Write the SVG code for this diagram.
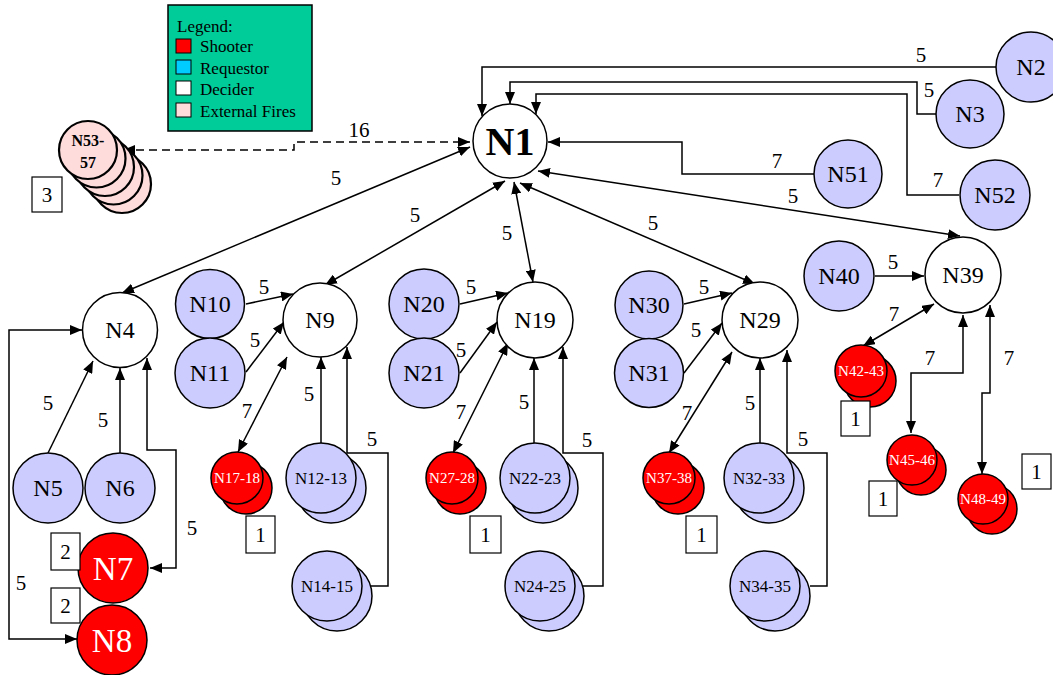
<svg xmlns="http://www.w3.org/2000/svg" width="1053" height="675" viewBox="0 0 1053 675" font-family="'Liberation Serif', 'Times New Roman', 'DejaVu Serif', serif">
<defs>
<marker id="ah" viewBox="0 0 12 10" refX="12" refY="5" markerWidth="12" markerHeight="10" markerUnits="userSpaceOnUse" orient="auto-start-reverse"><path d="M0,0 L12,5 L0,10 z" fill="#000"/></marker>
</defs>
<style>
.c{stroke:#000;stroke-width:1.5}
.lav{fill:#CCCCFF}
.red{fill:#FF0000}
.wht{fill:#FFFFFF}
.pnk{fill:#FFDCDC;stroke:#000;stroke-width:2.2}
text{font-family:'Liberation Serif','Times New Roman','DejaVu Serif',serif;text-anchor:middle;fill:#000}
.nl{font-size:24px}
.gl{font-size:17px}
.rl{font-size:15px;fill:#fff}
.el{font-size:21px}
.bx{fill:#fff;stroke:#000;stroke-width:1.2}
.e{fill:none;stroke:#000;stroke-width:1.5}
.a{marker-end:url(#ah)}
.aa{marker-start:url(#ah);marker-end:url(#ah)}
.lg{font-size:17px;text-anchor:start}
</style>
<g id="legend">
<rect x="168" y="5" width="144" height="126" fill="#00CC99" stroke="#000" stroke-width="1.5"/>
<text class="lg" x="177" y="32">Legend:</text>
<rect x="176" y="39" width="15" height="14" fill="#FF0000" stroke="#000"/>
<text class="lg" x="200" y="52">Shooter</text>
<rect x="176" y="60" width="15" height="14" fill="#00CCFF" stroke="#000"/>
<text class="lg" x="200" y="74">Requestor</text>
<rect x="176" y="81" width="15" height="14" fill="#FFFFFF" stroke="#000"/>
<text class="lg" x="200" y="95">Decider</text>
<rect x="176" y="103" width="15" height="14" fill="#FFDCDC" stroke="#000"/>
<text class="lg" x="200" y="117">External Fires</text>
</g>
<g id="connectors">
<path class="e aa" d="M123,150 H294 V142 H470" stroke-dasharray="8,5"/>
<path class="e a" d="M996,67 H482 V116"/>
<path class="e a" d="M937,114 H917 V82 H510 V104"/>
<path class="e a" d="M959,195 H907 V94 H536 V114"/>
<path class="e a" d="M814,174 H682 V142 H548"/>
<path class="e aa" d="M538,171 L960,236"/>
<path class="e aa" d="M470,147 L122,293"/>
<path class="e aa" d="M505,181 L325,285"/>
<path class="e aa" d="M514,182 L533,282"/>
<path class="e aa" d="M520,183 L755,284"/>
<path class="e a" d="M48,453 L93,361"/>
<path class="e a" d="M120,453 V368"/>
<path class="e aa" d="M150,568 H176 V450 H147 V358"/>
<path class="e aa" d="M82,330 H9 V639 H77"/>
<path class="e a" d="M246,304 L293,294"/>
<path class="e a" d="M246,372 L284,322"/>
<path class="e aa" d="M238,452 L287,357"/>
<path class="e a" d="M321,443 V357"/>
<path class="e a" d="M370,586 H388 V453 H347 V347"/>
<path class="e a" d="M460,304 L508,293"/>
<path class="e a" d="M460,373 L497,322"/>
<path class="e aa" d="M453,453 L508,343"/>
<path class="e a" d="M534,443 V358"/>
<path class="e a" d="M583,586 H603 V453 H563 V347"/>
<path class="e a" d="M684,304 L732,293"/>
<path class="e a" d="M684,373 L722,323"/>
<path class="e aa" d="M669,453 L732,352"/>
<path class="e a" d="M760,443 V358"/>
<path class="e a" d="M810,586 H827 V453 H787 V350"/>
<path class="e a" d="M875,276 H924"/>
<path class="e aa" d="M863,346 L934,304"/>
<path class="e aa" d="M963,315 V373 H911 V433"/>
<path class="e aa" d="M990,305 V393 H982 V474"/>
<text class="el" x="359" y="137">16</text>
<text class="el" x="921" y="62">5</text>
<text class="el" x="929" y="97">5</text>
<text class="el" x="777" y="168">7</text>
<text class="el" x="938" y="187">7</text>
<text class="el" x="793" y="203">5</text>
<text class="el" x="336" y="185">5</text>
<text class="el" x="415" y="222">5</text>
<text class="el" x="507" y="240">5</text>
<text class="el" x="653" y="230">5</text>
<text class="el" x="48" y="410">5</text>
<text class="el" x="103" y="427">5</text>
<text class="el" x="192" y="535">5</text>
<text class="el" x="21" y="590">5</text>
<text class="el" x="264" y="294">5</text>
<text class="el" x="255" y="347">5</text>
<text class="el" x="247" y="418">7</text>
<text class="el" x="309" y="401">5</text>
<text class="el" x="372" y="446">5</text>
<text class="el" x="471" y="294">5</text>
<text class="el" x="461" y="357">5</text>
<text class="el" x="461" y="419">7</text>
<text class="el" x="524" y="409">5</text>
<text class="el" x="587" y="447">5</text>
<text class="el" x="704" y="294">5</text>
<text class="el" x="696" y="337">5</text>
<text class="el" x="687" y="420">7</text>
<text class="el" x="750" y="410">5</text>
<text class="el" x="803" y="446">5</text>
<text class="el" x="893" y="269">5</text>
<text class="el" x="894" y="321">7</text>
<text class="el" x="930" y="365">7</text>
<text class="el" x="1009" y="365">7</text>
</g>
<g id="N1"><circle class="c wht" cx="510" cy="141" r="37"/><text x="510" y="155" font-size="40" font-weight="bold">N1</text></g>
<g id="N2"><circle class="c lav" cx="1031" cy="67" r="35"/><text class="nl" x="1031" y="75">N2</text></g>
<g id="N3"><circle class="c lav" cx="970" cy="114" r="34"/><text class="nl" x="970" y="122">N3</text></g>
<g id="N51"><circle class="c lav" cx="848" cy="174" r="34"/><text class="nl" x="848" y="182">N51</text></g>
<g id="N52"><circle class="c lav" cx="995" cy="195" r="35"/><text class="nl" x="995" y="203">N52</text></g>
<g id="N53-57">
<circle class="pnk" cx="122" cy="184" r="29"/>
<circle class="pnk" cx="113.5" cy="175.5" r="29"/>
<circle class="pnk" cx="105" cy="167" r="29"/>
<circle class="pnk" cx="96.5" cy="158.5" r="29"/>
<circle class="pnk" cx="88" cy="150" r="29"/>
<text x="88" y="146" font-size="16" font-weight="bold">N53-</text>
<text x="88" y="168" font-size="16" font-weight="bold">57</text>
<rect class="bx" x="32" y="177" width="30" height="35"/><text class="el" x="47" y="202">3</text>
</g>
<g id="N4"><circle class="c wht" cx="120" cy="330" r="37.5"/><text class="nl" x="120" y="338">N4</text></g>
<g id="N5"><circle class="c lav" cx="48" cy="488" r="35"/><text class="nl" x="48" y="496">N5</text></g>
<g id="N6"><circle class="c lav" cx="120" cy="488" r="35"/><text class="nl" x="120" y="496">N6</text></g>
<g id="N7"><circle class="c red" cx="113" cy="568" r="35"/><text x="113" y="580" font-size="33" style="fill:#fff">N7</text>
<rect class="bx" x="51" y="533" width="29" height="37"/><text class="el" x="65.5" y="559">2</text></g>
<g id="N8"><circle class="c red" cx="112" cy="640" r="35"/><text x="112" y="652" font-size="33" style="fill:#fff">N8</text>
<rect class="bx" x="51" y="588" width="29" height="35"/><text class="el" x="65.5" y="613">2</text></g>
<g id="N9"><circle class="c wht" cx="320" cy="320" r="37"/><text class="nl" x="320" y="328">N9</text></g>
<g id="N10"><circle class="c lav" cx="210" cy="304" r="34.5"/><text class="nl" x="210" y="312">N10</text></g>
<g id="N11"><circle class="c lav" cx="210" cy="373" r="35"/><text class="nl" x="210" y="381">N11</text></g>
<g id="N17-18"><circle class="c red" cx="246" cy="488" r="26"/><circle class="c red" cx="237" cy="478" r="26"/><text class="rl" x="237" y="483">N17-18</text>
<rect class="bx" x="246" y="516" width="29" height="37"/><text class="el" x="260.5" y="542">1</text></g>
<g id="N12-13"><circle class="c lav" cx="331" cy="488" r="35"/><circle class="c lav" cx="321" cy="478" r="35"/><text class="gl" x="321" y="484">N12-13</text></g>
<g id="N14-15"><circle class="c lav" cx="337" cy="596" r="35"/><circle class="c lav" cx="327" cy="586" r="35"/><text class="gl" x="327" y="592">N14-15</text></g>
<g id="N19"><circle class="c wht" cx="535" cy="320" r="38"/><text class="nl" x="535" y="328">N19</text></g>
<g id="N20"><circle class="c lav" cx="424" cy="304" r="35"/><text class="nl" x="424" y="312">N20</text></g>
<g id="N21"><circle class="c lav" cx="424" cy="373" r="35"/><text class="nl" x="424" y="381">N21</text></g>
<g id="N27-28"><circle class="c red" cx="460" cy="488" r="26"/><circle class="c red" cx="452" cy="478" r="26"/><text class="rl" x="452" y="483">N27-28</text>
<rect class="bx" x="470" y="516" width="31" height="37"/><text class="el" x="485.5" y="542">1</text></g>
<g id="N22-23"><circle class="c lav" cx="543" cy="488" r="35"/><circle class="c lav" cx="535" cy="478" r="35"/><text class="gl" x="535" y="484">N22-23</text></g>
<g id="N24-25"><circle class="c lav" cx="549" cy="596" r="35"/><circle class="c lav" cx="540" cy="586" r="35"/><text class="gl" x="540" y="592">N24-25</text></g>
<g id="N29"><circle class="c wht" cx="760" cy="320" r="38"/><text class="nl" x="760" y="328">N29</text></g>
<g id="N30"><circle class="c lav" cx="649" cy="305" r="34"/><text class="nl" x="649" y="313">N30</text></g>
<g id="N31"><circle class="c lav" cx="649" cy="373" r="34.5"/><text class="nl" x="649" y="381">N31</text></g>
<g id="N37-38"><circle class="c red" cx="678" cy="488" r="26"/><circle class="c red" cx="669" cy="478" r="26"/><text class="rl" x="669" y="483">N37-38</text>
<rect class="bx" x="686" y="516" width="31" height="37"/><text class="el" x="701.5" y="542">1</text></g>
<g id="N32-33"><circle class="c lav" cx="769" cy="488" r="35"/><circle class="c lav" cx="759" cy="478" r="35"/><text class="gl" x="759" y="484">N32-33</text></g>
<g id="N34-35"><circle class="c lav" cx="775" cy="596" r="35"/><circle class="c lav" cx="765" cy="586" r="35"/><text class="gl" x="765" y="592">N34-35</text></g>
<g id="N39"><circle class="c wht" cx="963" cy="275" r="38"/><text class="nl" x="963" y="283">N39</text></g>
<g id="N40"><circle class="c lav" cx="839" cy="276" r="35"/><text class="nl" x="839" y="284">N40</text></g>
<g id="N42-43"><circle class="c red" cx="870" cy="381" r="26"/><circle class="c red" cx="861" cy="371" r="26"/><text class="rl" x="861" y="376">N42-43</text>
<rect class="bx" x="841" y="401" width="29" height="35"/><text class="el" x="855.5" y="426">1</text></g>
<g id="N45-46"><circle class="c red" cx="921" cy="470" r="25"/><circle class="c red" cx="912" cy="460" r="25"/><text class="rl" x="912" y="465">N45-46</text>
<rect class="bx" x="869" y="481" width="28" height="35"/><text class="el" x="883" y="506">1</text></g>
<g id="N48-49"><circle class="c red" cx="992" cy="509" r="25"/><circle class="c red" cx="983" cy="499" r="25"/><text class="rl" x="983" y="504">N48-49</text>
<rect class="bx" x="1022" y="454" width="29" height="35"/><text class="el" x="1036.5" y="479">1</text></g>
</svg>
